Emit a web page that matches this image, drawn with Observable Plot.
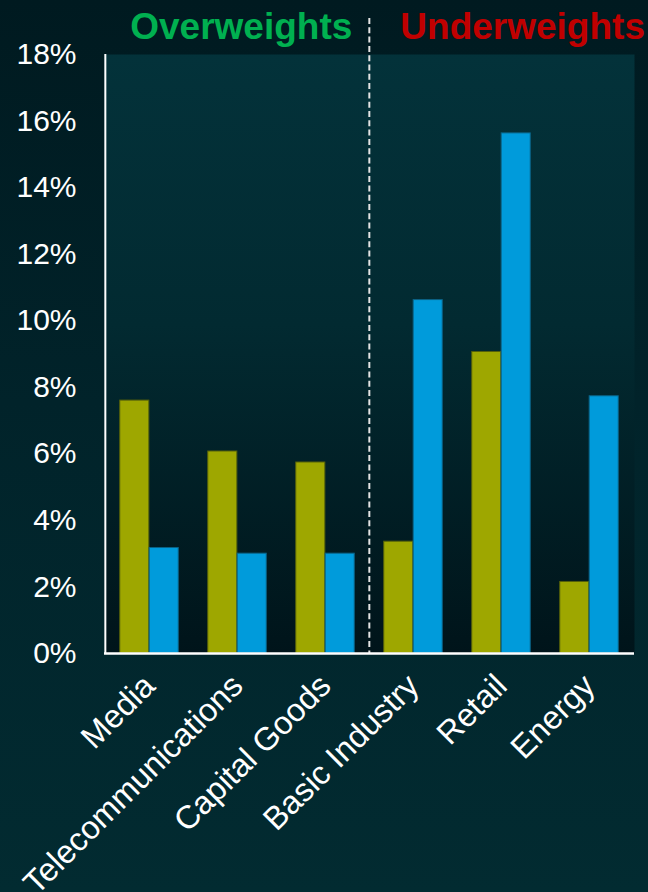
<!DOCTYPE html>
<html>
<head>
<meta charset="utf-8">
<script src="https://cdn.jsdelivr.net/npm/d3@7"></script>
<script src="https://cdn.jsdelivr.net/npm/@observablehq/plot@0.6"></script>
<style>
  html, body { margin: 0; padding: 0; }
  body {
    width: 648px; height: 892px; overflow: hidden;
    background: linear-gradient(to bottom, #001a20 0%, #01232a 45%, #022b31 100%);
  }
  #chart svg { display: block; }
</style>
</head>
<body>
<div id="chart"></div>
<script>
// ---- data ----
const categories = ["Media", "Telecommunications", "Capital Goods", "Basic Industry", "Retail", "Energy"];
const portfolioWeights = [7.6, 6.07, 5.74, 3.36, 9.06, 2.15];   // olive bars
const benchmarkWeights = [3.17, 3.0, 3.0, 10.62, 15.63, 7.73];   // blue bars
const yTicks = [0, 2, 4, 6, 8, 10, 12, 14, 16, 18];
const groupLabels = ["Overweights", "Underweights"];
const dividerBefore = "Basic Industry";

// ---- layout ----
const W = 648, H = 892;
const mL = 104, mR = 14, mT = 54, mB = 239;
const step = (W - mL - mR) / categories.length;
const barW = step * 0.333;
const outer = step / 2 - barW;

const rows = categories.map((c, i) => ({category: c, portfolio: portfolioWeights[i], benchmark: benchmarkWeights[i]}));

const plot = Plot.plot({
  width: W, height: H,
  marginLeft: mL, marginRight: mR, marginTop: mT, marginBottom: mB,
  style: {background: "transparent", color: "white", fontFamily: "'Liberation Sans', Arial, sans-serif", fontSize: "30px"},
  x: {domain: categories, padding: 0, label: null, tickSize: 0, tickRotate: -45, tickPadding: 27},
  y: {domain: [0, 18], ticks: yTicks, tickFormat: d => d + "%", label: null, tickSize: 0, tickPadding: 28},
  marks: [
    Plot.frame({fill: "url(#plotGrad)", stroke: "none"}),
    Plot.barY(rows, {x: "category", y: "portfolio", fill: "#9ea700", stroke: "#55600a", strokeWidth: 1, insetLeft: outer, insetRight: step / 2}),
    Plot.barY(rows, {x: "category", y: "benchmark", fill: "#009bdb", stroke: "#0b6285", strokeWidth: 1, insetLeft: step / 2, insetRight: outer}),
    Plot.ruleX([dividerBefore], {dx: -step / 2, stroke: "#e4e4e4", strokeWidth: 2, strokeDasharray: "6,3.3", insetTop: -36}),
    Plot.ruleX([categories[0]], {dx: -step / 2, stroke: "white", strokeWidth: 2}),
    Plot.ruleY([0], {stroke: "white", strokeWidth: 2.5}),
    Plot.text([groupLabels[0]], {x: () => dividerBefore, text: d => d, frameAnchor: "top", lineAnchor: "bottom", textAnchor: "end", dx: -step / 2 - 17, dy: -16, fill: "#00b050", fontWeight: "bold", fontSize: 37}),
    Plot.text([groupLabels[1]], {x: () => dividerBefore, text: d => d, frameAnchor: "top", lineAnchor: "bottom", textAnchor: "start", dx: -step / 2 + 31, dy: -16, fill: "#c00000", fontWeight: "bold", fontSize: 37})
  ]
});

const svg = d3.select(plot);
// slightly larger rotated category labels
svg.selectAll('g[aria-label="x-axis tick label"]').attr("font-size", 32.5);

// gradient for the plot area
const defs = svg.insert("defs", ":first-child");
const g = defs.append("linearGradient").attr("id", "plotGrad").attr("x1", 0).attr("y1", 0).attr("x2", 0).attr("y2", 1);
g.append("stop").attr("offset", "0%").attr("stop-color", "#03323a");
g.append("stop").attr("offset", "45%").attr("stop-color", "#022a31");
g.append("stop").attr("offset", "100%").attr("stop-color", "#00141a");

document.getElementById("chart").appendChild(plot);
</script>
</body>
</html>
